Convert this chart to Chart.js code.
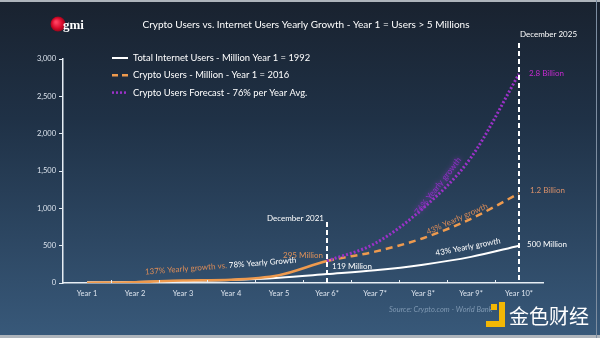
<!DOCTYPE html>
<html>
<head>
<meta charset="utf-8">
<script src="https://cdn.jsdelivr.net/npm/chart.js@4"></script>
<style>
  html, body { margin: 0; padding: 0; background: #22384f; }
  #growthChart { display: block; }
</style>
</head>
<body>
<canvas id="growthChart" width="600" height="338"></canvas>
<script>
// Chart values (millions of users)
const yearLabels = ["Year 1", "Year 2", "Year 3", "Year 4", "Year 5", "Year 6*", "Year 7*", "Year 8*", "Year 9*", "Year 10*"];
const internetUsers = [10, 14, 25, 40, 70, 119, 170, 245, 350, 500];
const cryptoUsers = [5, 10, 35, 45, 105, 295, 420, 600, 860, 1200];
const cryptoForecast = [null, null, null, null, null, 295, 530, 1000, 1680, 2800];
const yTicks = [0, 500, 1000, 1500, 2000, 2500, 3000];

const titleText = "Crypto Users vs. Internet Users Yearly Growth - Year 1 = Users > 5 Millions";
const legendItems = [
  { text: "Total Internet Users - Million Year 1 = 1992", color: "#ffffff", dash: [] },
  { text: "Crypto Users - Million - Year 1 = 2016", color: "#ee9a4e", dash: [6, 4] },
  { text: "Crypto Users Forecast - 76% per Year Avg.", color: "#9b32c8", dash: [2, 2] }
];

const FONT = "Lato, 'Open Sans', sans-serif";
const AXIS_COLOR = "#e6edf4";

function txt(ctx, s, x, y, color, size, align, opts) {
  opts = opts || {};
  ctx.save();
  ctx.font = (opts.style || "") + " " + (opts.weight || "") + " " + size + "px " + (opts.family || FONT);
  ctx.fillStyle = color;
  ctx.textAlign = align || "left";
  ctx.textBaseline = "middle";
  if (opts.rotate) {
    ctx.translate(x, y);
    ctx.rotate(opts.rotate * Math.PI / 180);
    x = 0; y = 0;
  }
  if (opts.blur) {
    ctx.shadowColor = color;
    ctx.shadowBlur = opts.blur;
  }
  ctx.fillText(s, x, y);
  ctx.restore();
}

const decorations = {
  id: "decorations",
  beforeDraw(chart) {
    const ctx = chart.ctx;
    const g = ctx.createLinearGradient(0, 0, 0, 338);
    g.addColorStop(0, "#19222f");
    g.addColorStop(0.35, "#1f3146");
    g.addColorStop(1, "#38597a");
    ctx.fillStyle = g;
    ctx.fillRect(0, 0, 600, 338);
    // frame edges
    ctx.fillStyle = "#aeb4bb";
    ctx.fillRect(0, 0, 600, 2);
    ctx.fillRect(0, 335, 600, 3);
    ctx.fillStyle = "#7d8da0";
    ctx.fillRect(596, 0, 1, 338);
  },
  afterDatasetsDraw(chart) {
    const ctx = chart.ctx;
    const x = chart.scales.x, y = chart.scales.y;
    const bottom = y.getPixelForValue(0);

    // upward ticks between categories on the x axis
    ctx.save();
    ctx.strokeStyle = AXIS_COLOR;
    ctx.lineWidth = 1;
    for (let i = 1; i < yearLabels.length; i++) {
      const px = Math.round((x.getPixelForValue(i - 1) + x.getPixelForValue(i)) / 2) + 0.5;
      ctx.beginPath();
      ctx.moveTo(px, bottom);
      ctx.lineTo(px, bottom - 3);
      ctx.stroke();
    }
    ctx.restore();

    // December 2021 / December 2025 markers
    ctx.save();
    ctx.strokeStyle = "#ffffff";
    ctx.lineWidth = 2;
    ctx.setLineDash([5, 3]);
    const x6 = x.getPixelForValue(5), x10 = x.getPixelForValue(9);
    ctx.beginPath();
    ctx.moveTo(x6, 222); ctx.lineTo(x6, bottom);
    ctx.moveTo(x10, 43); ctx.lineTo(x10, bottom);
    ctx.stroke();
    ctx.restore();
    txt(ctx, "December 2021", x6 - 3, 218, "#ffffff", 8, "right");
    txt(ctx, "December 2025", x10 + 1, 34, "#ffffff", 8, "left");

    // value labels
    txt(ctx, "2.8 Billion", x10 + 10, y.getPixelForValue(cryptoForecast[9]) - 1, "#c62ad0", 8, "left");
    txt(ctx, "1.2 Billion", x10 + 11, y.getPixelForValue(cryptoUsers[9]) - 3, "#d9906a", 8, "left");
    txt(ctx, "500 Million", x10 + 8, y.getPixelForValue(internetUsers[9]) - 1, "#ffffff", 8, "left");
    txt(ctx, "119 Million", x6 + 5, y.getPixelForValue(internetUsers[5]) - 8, "#ffffff", 8, "left");
    txt(ctx, "295 Million", x6 - 4, y.getPixelForValue(cryptoUsers[5]) - 6, "#e0925a", 8, "right");

    // growth notes along the lines
    ctx.save();
    ctx.translate(145, 272);
    ctx.rotate(-4.5 * Math.PI / 180);
    ctx.font = "8px " + FONT;
    ctx.textBaseline = "middle";
    const part1 = "137% Yearly growth vs. ";
    ctx.fillStyle = "#dd8c57";
    ctx.fillText(part1, 0, 0);
    ctx.fillStyle = "#ffffff";
    ctx.fillText("78% Yearly Growth", ctx.measureText(part1).width, 0);
    ctx.restore();
    txt(ctx, "43% Yearly growth", 457, 219, "#dd8c57", 8, "center", { rotate: -24 });
    txt(ctx, "43% Yearly growth", 468, 247, "#ffffff", 8, "center", { rotate: -11 });
    txt(ctx, "76% Yearly growth", 438, 186, "#8e2fc4", 8.5, "center", { rotate: -52, blur: 4 });
  },
  afterDraw(chart) {
    const ctx = chart.ctx;
    // title
    txt(ctx, titleText, 306, 25, "#ffffff", 10, "center");

    // legend
    legendItems.forEach((item, i) => {
      const ly = 58 + i * 17.3;
      ctx.save();
      ctx.strokeStyle = item.color;
      ctx.lineWidth = item.dash.length ? 2.5 : 2;
      ctx.setLineDash(item.dash);
      ctx.beginPath();
      ctx.moveTo(112, ly);
      ctx.lineTo(128, ly);
      ctx.stroke();
      ctx.restore();
      txt(ctx, item.text, 133, ly, "#ffffff", 9.4, "left");
    });

    // gmi logo
    ctx.save();
    const rg = ctx.createRadialGradient(56, 22, 1, 58, 24, 8);
    rg.addColorStop(0, "#ff4060");
    rg.addColorStop(0.6, "#d80a2a");
    rg.addColorStop(1, "#8a0618");
    ctx.fillStyle = rg;
    ctx.beginPath();
    ctx.arc(58, 24, 7.5, 0, Math.PI * 2);
    ctx.fill();
    ctx.restore();
    txt(ctx, "gmi", 63, 26, "#ffffff", 13, "left", { family: "'Liberation Serif', serif", weight: "bold" });

    // source note
    txt(ctx, "Source: Crypto.com - World Bank", 389, 310, "#7f98b2", 7.5, "left", { style: "italic" });

    // watermark
    ctx.save();
    ctx.fillStyle = "#f2b705";
    ctx.fillRect(491, 304, 6, 6);
    ctx.fillRect(499, 302, 6, 25);
    ctx.fillRect(486, 321, 19, 6);
    ctx.restore();
    txt(ctx, "金色财经", 509, 316, "#ffffff", 20, "left", { family: "'Noto Sans CJK SC', sans-serif" });
  }
};

new Chart(document.getElementById("growthChart"), {
  type: "line",
  data: {
    labels: yearLabels,
    datasets: [
      {
        label: legendItems[2].text,
        data: cryptoForecast,
        borderColor: "#9b32c8",
        borderWidth: 3,
        borderDash: [2, 2],
        pointRadius: 0,
        cubicInterpolationMode: "monotone",
        spanGaps: false
      },
      {
        label: legendItems[1].text,
        data: cryptoUsers,
        borderColor: "#ee9a4e",
        borderWidth: 2.5,
        pointRadius: 0,
        cubicInterpolationMode: "monotone",
        segment: {
          borderDash: (c) => (c.p0DataIndex >= 5 ? [7, 5] : undefined)
        }
      },
      {
        label: legendItems[0].text,
        data: internetUsers,
        borderColor: "#ffffff",
        borderWidth: 2,
        pointRadius: 0,
        cubicInterpolationMode: "monotone"
      }
    ]
  },
  options: {
    responsive: false,
    animation: false,
    devicePixelRatio: 1,
    layout: { padding: { top: 59, right: 57, left: 0, bottom: 0 } },
    plugins: {
      legend: { display: false },
      title: { display: false },
      tooltip: { enabled: false }
    },
    scales: {
      x: {
        offset: true,
        grid: { drawOnChartArea: false, drawTicks: false, color: "transparent" },
        border: { display: true, color: AXIS_COLOR, width: 1.5 },
        ticks: { color: "#dce4ee", font: { size: 7.5, family: FONT }, padding: 6, maxRotation: 0 },
        afterFit: (scale) => { scale.height = 55; }
      },
      y: {
        min: 0,
        max: 3000,
        afterBuildTicks: (scale) => { scale.ticks = yTicks.map((v) => ({ value: v })); },
        grid: { drawOnChartArea: false, tickLength: 4, color: AXIS_COLOR },
        border: { display: true, color: AXIS_COLOR, width: 1.5 },
        ticks: {
          color: "#dce4ee",
          font: { size: 7.5, family: FONT },
          padding: 3,
          callback: (v) => v.toLocaleString("en-US")
        },
        afterFit: (scale) => { scale.width = 63; }
      }
    }
  },
  plugins: [decorations]
});
</script>
</body>
</html>
